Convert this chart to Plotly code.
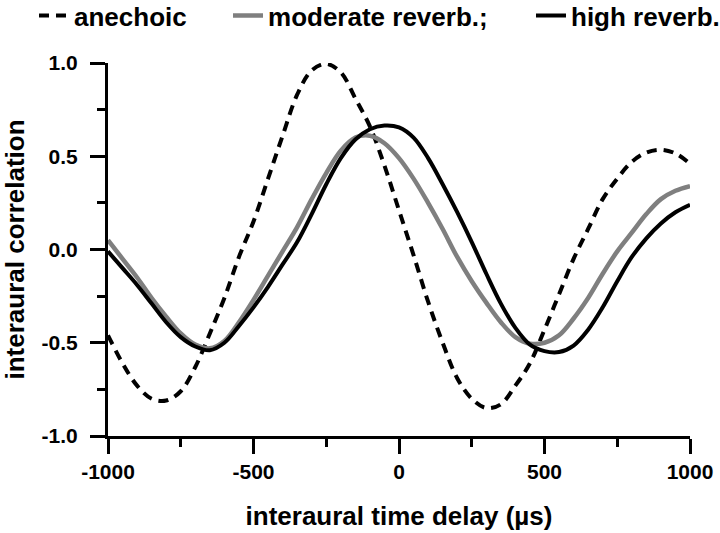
import plotly.graph_objects as go

delay_us = [-1000, -950, -900, -850, -800, -750, -700, -650, -600, -550, -500,
            -450, -400, -350, -300, -250, -200, -150, -100, -50, 0,
            50, 100, 150, 200, 250, 300, 350, 400, 450, 500,
            550, 600, 650, 700, 750, 800, 850, 900, 950, 1000]

anechoic = [-0.46, -0.61, -0.73, -0.80, -0.81, -0.76, -0.63, -0.45, -0.26, -0.04, 0.15,
            0.38, 0.61, 0.83, 0.96, 0.995, 0.95, 0.81, 0.66, 0.45, 0.21,
            -0.03, -0.28, -0.50, -0.69, -0.80, -0.85, -0.83, -0.73, -0.61, -0.43,
            -0.24, -0.05, 0.11, 0.27, 0.38, 0.47, 0.52, 0.535, 0.515, 0.46]

moderate = [0.05, -0.05, -0.15, -0.26, -0.36, -0.45, -0.51, -0.53, -0.49, -0.39, -0.27,
            -0.14, -0.01, 0.12, 0.27, 0.41, 0.53, 0.60, 0.61, 0.57, 0.49,
            0.38, 0.25, 0.11, -0.04, -0.17, -0.285, -0.39, -0.47, -0.505, -0.50,
            -0.46, -0.37, -0.26, -0.13, -0.01, 0.09, 0.19, 0.27, 0.315, 0.34]

high = [-0.01, -0.10, -0.19, -0.29, -0.39, -0.47, -0.52, -0.54, -0.50, -0.41, -0.31,
        -0.20, -0.08, 0.04, 0.19, 0.35, 0.49, 0.59, 0.645, 0.665, 0.655,
        0.60, 0.49, 0.35, 0.20, 0.04, -0.13, -0.29, -0.42, -0.51, -0.545,
        -0.55, -0.515, -0.43, -0.31, -0.17, -0.04, 0.06, 0.14, 0.20, 0.24]

x_ticks = [-1000, -500, 0, 500, 1000]
x_labels = ["-1000", "-500", "0", "500", "1000"]
y_ticks = [-1.0, -0.5, 0.0, 0.5, 1.0]
y_labels = ["-1.0", "-0.5", "0.0", "0.5", "1.0"]

FONT = "Liberation Sans, Arial, sans-serif"

fig = go.Figure()
fig.add_trace(go.Scatter(x=delay_us, y=anechoic, mode="lines", name="anechoic",
                         legend="legend2",
                         line=dict(color="black", width=4, dash="10px,7px", shape="spline")))
fig.add_trace(go.Scatter(x=delay_us, y=moderate, mode="lines", name="moderate reverb.;",
                         legend="legend3",
                         line=dict(color="#7f7f7f", width=4.5, shape="spline")))
fig.add_trace(go.Scatter(x=delay_us, y=high, mode="lines", name="high reverb.",
                         legend="legend4",
                         line=dict(color="black", width=4, shape="spline")))

axis_common = dict(showline=True, linecolor="black", linewidth=3, showgrid=False,
                   zeroline=False, ticks="outside", ticklen=15, tickwidth=3,
                   tickcolor="black", mirror=False, automargin=False,
                   tickfont=dict(family=FONT, size=21, color="black", weight="bold"))

fig.update_xaxes(range=[-1000, 1000], tickvals=x_ticks, ticktext=x_labels,
                 minor=dict(dtick=250, tick0=-1000, ticklen=8, tickwidth=3,
                            tickcolor="black", ticks="outside", showgrid=False),
                 title=dict(text="interaural time delay (µs)", standoff=25,
                            font=dict(family=FONT, size=26, color="black", weight="bold")),
                 **axis_common)
fig.update_yaxes(range=[-1.0, 1.0], tickvals=y_ticks, ticktext=y_labels,
                 minor=dict(dtick=0.25, tick0=-1.0, ticklen=8, tickwidth=3,
                            tickcolor="black", ticks="outside", showgrid=False),
                 title=dict(text="interaural correlation", standoff=27,
                            font=dict(family=FONT, size=26, color="black", weight="bold")),
                 ticklabelstandoff=8,
                 **axis_common)

leg_common = dict(orientation="h", xanchor="left", y=1.19, yanchor="top",
                  font=dict(family=FONT, size=26, color="black", weight="bold"),
                  bgcolor="rgba(0,0,0,0)", borderwidth=0)

fig.update_layout(
    width=720, height=533,
    margin=dict(l=108, r=30, t=63, b=97, autoexpand=False),
    plot_bgcolor="white", paper_bgcolor="white",
    legend2=dict(x=-0.1271, **leg_common),
    legend3=dict(x=0.2062, **leg_common),
    legend4=dict(x=0.7268, **leg_common),
    modebar=dict(bgcolor="rgba(0,0,0,0)", color="rgba(0,0,0,0)",
                 activecolor="rgba(0,0,0,0)"),
)

fig.write_html("out.html", config={"displaylogo": False},
               post_script="document.body.style.margin='0';"
                           "document.body.style.overflow='hidden';")
